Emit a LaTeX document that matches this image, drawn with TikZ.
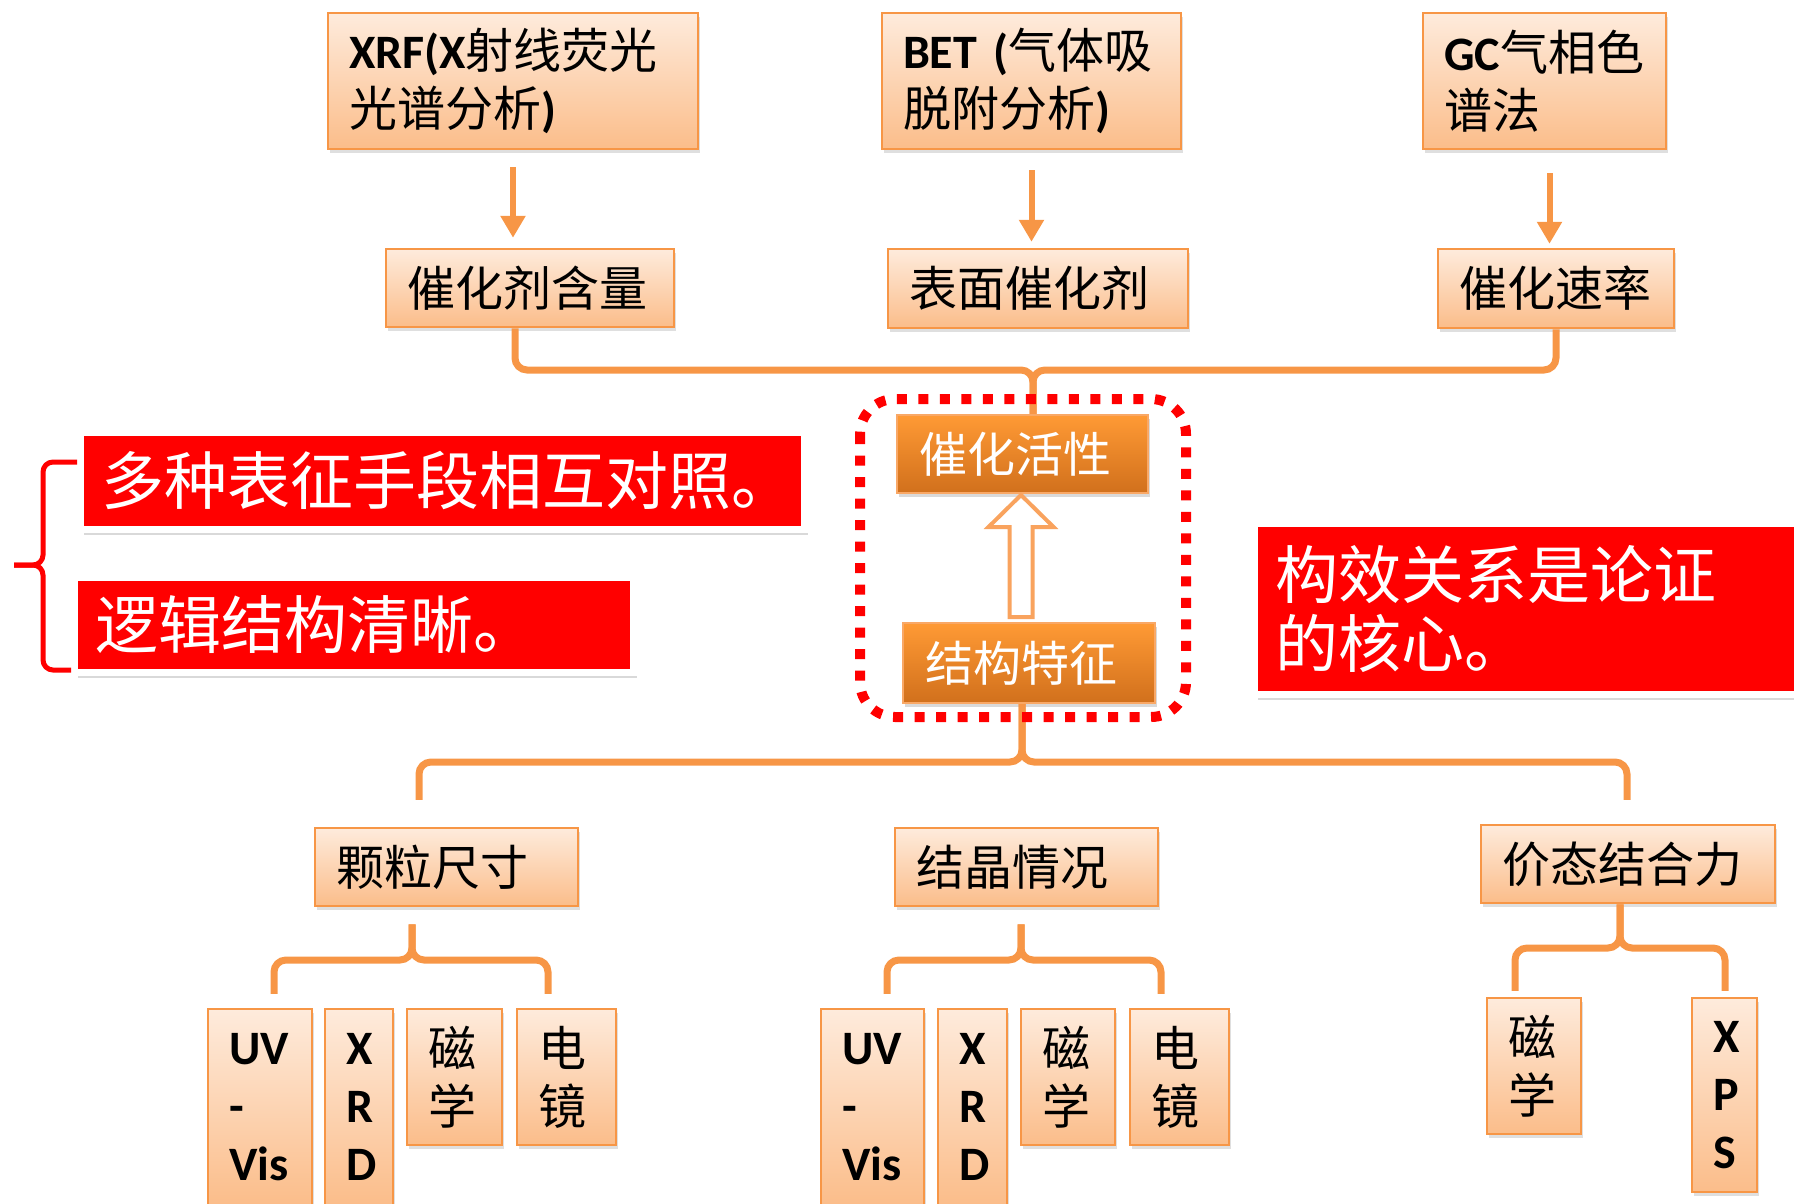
\documentclass[tikz,border=0pt]{standalone}
\usepackage{fontspec}
\newfontfamily\cjk{Noto Sans CJK SC}
\newfontfamily\latf{Carlito}
\newcommand\lt[1]{{\latf\bfseries #1}}
\newcommand\fsL{\cjk\fontsize{48pt}{58pt}\selectfont}
\newcommand\fsR{\cjk\fontsize{63pt}{69pt}\selectfont}
\usetikzlibrary{arrows.meta,shadows,calc}
\definecolor{boxtop}{HTML}{FEEBDC}
\definecolor{boxbot}{HTML}{FBBD8A}
\definecolor{boxline}{HTML}{F79646}
\definecolor{conn}{HTML}{F79646}
\definecolor{dtop}{HTML}{FF9A35}
\definecolor{dbot}{HTML}{D1701C}
\definecolor{dline}{HTML}{F9A866}
\definecolor{hollowline}{HTML}{F9A35E}
\definecolor{pured}{HTML}{FF0000}
\begin{document}
\begin{tikzpicture}[x=1pt,y=-1pt,
  lbox/.style={draw=boxline, line width=2.5pt, top color=boxtop, bottom color=boxbot,
    inner xsep=21pt, inner ysep=0pt, align=left, text=black, font=\fsL,
    drop shadow={shadow xshift=2pt, shadow yshift=-4pt, opacity=0.25}},
  dbox/.style={draw=dline, line width=2pt, top color=dtop, bottom color=dbot,
    inner xsep=22pt, inner ysep=0pt, align=left, text=white, font=\fsL,
    drop shadow={shadow xshift=2pt, shadow yshift=-4pt, opacity=0.3}},
  rbox/.style={draw=white, line width=7pt, fill=pured, inner xsep=21pt, inner ysep=0pt,
    align=left, text=white, font=\fsR,
    drop shadow={shadow xshift=3pt, shadow yshift=-5pt, opacity=0.3}},
  obrace/.style={draw=conn, line width=7pt, rounded corners=12pt},
  oarrow/.style={draw=conn, line width=6pt, -{Triangle[width=24pt,length=22pt]}},
  hollow/.style={draw=hollowline, line width=4pt, fill=white, line join=miter},
  redbr/.style={draw=pured, line width=5pt, rounded corners=10pt},
  dotframe/.style={draw=pured, line width=10pt, dash pattern=on 10pt off 11.5pt, rounded corners=35pt}
]
\useasboundingbox (0,0) rectangle (1794,1203);

% ---------- boxes ----------
\node[lbox, minimum width=370pt, minimum height=136pt, text width=328pt] (xrf) at (513,81)
  {\lt{XRF(X}射线荧光\\光谱分析\lt{)}};
\node[lbox, minimum width=299pt, minimum height=136pt, text width=257pt] (bet) at (1031.5,81)
  {\lt{BET (}气体吸\\脱附分析\lt{)}};
\node[lbox, minimum width=243pt, minimum height=136pt, text width=201pt] (gc) at (1544.5,81)
  {\lt{GC}气相色\\谱法};

\node[lbox, minimum width=288pt, minimum height=78pt, text width=246pt] (cat) at (530,288) {催化剂含量};
\node[lbox, minimum width=300pt, minimum height=79pt, text width=258pt] (surf) at (1038,288.5) {表面催化剂};
\node[lbox, minimum width=236pt, minimum height=79pt, text width=194pt] (rate) at (1556,288.5) {催化速率};

% ---------- upper brace ----------
\coordinate (uj) at (1033,370);
\draw[obrace] ([xshift=-15pt]cat.south) |- (uj) -- (uj |- 0,415);
\draw[obrace] (rate.south) |- (uj) -- (uj |- 0,415);

% ---------- arrows ----------
\draw[oarrow, shorten <=17pt, shorten >=10pt] (xrf.south) -- (xrf.south |- cat.north);
\draw[oarrow, shorten <=20pt, shorten >=6pt] (bet.south) -- (bet.south |- surf.north);
\coordinate (ga) at ($(gc.south)+(5,0)$);
\draw[oarrow, shorten <=23pt, shorten >=4pt] (ga) -- (ga |- rate.north);

% ---------- centre ----------
\node[dbox, minimum width=251pt, minimum height=78pt, text width=207pt] (act) at (1022.5,454) {催化活性};
\node[dbox, minimum width=252pt, minimum height=80pt, text width=208pt] (struct) at (1029,663) {结构特征};

\coordinate (hb) at (1021,617);
\coordinate (ht) at (1021,495);
\draw[hollow] ($(hb)+(-11.5,0)$) -- ($(ht)+(-11.5,32)$) -- ($(ht)+(-32.5,32)$) -- (ht)
  -- ($(ht)+(32.5,32)$) -- ($(ht)+(11.5,32)$) -- ($(hb)+(11.5,0)$) -- cycle;

% ---------- lower boxes ----------
\node[lbox, minimum width=263pt, minimum height=78pt, text width=221pt] (particle) at (446.5,867) {颗粒尺寸};
\node[lbox, minimum width=263pt, minimum height=78pt, text width=221pt] (cryst) at (1026.5,867) {结晶情况};
\node[lbox, minimum width=294pt, minimum height=78pt, text width=252pt] (val) at (1628,864) {价态结合力};

\node[lbox, minimum width=104pt, minimum height=196pt, text width=62pt] (uv1) at (260,1107) {\lt{UV}\\\lt{-}\\\lt{Vis}};
\node[lbox, minimum width=68pt, minimum height=196pt, text width=26pt] (xrd1) at (359,1107) {\lt{X}\\\lt{R}\\\lt{D}};
\node[lbox, minimum width=95pt, minimum height=136pt, text width=53pt] (mag1) at (454.5,1077) {磁\\学};
\node[lbox, minimum width=99pt, minimum height=136pt, text width=57pt] (em1) at (566.5,1077) {电\\镜};

\node[lbox, minimum width=103pt, minimum height=196pt, text width=61pt] (uv2) at (872.5,1107) {\lt{UV}\\\lt{-}\\\lt{Vis}};
\node[lbox, minimum width=69pt, minimum height=196pt, text width=27pt] (xrd2) at (972.5,1107) {\lt{X}\\\lt{R}\\\lt{D}};
\node[lbox, minimum width=94pt, minimum height=136pt, text width=52pt] (mag2) at (1068,1077) {磁\\学};
\node[lbox, minimum width=99pt, minimum height=136pt, text width=57pt] (em2) at (1179.5,1077) {电\\镜};

\node[lbox, minimum width=94pt, minimum height=136pt, text width=52pt] (mag3) at (1534,1066) {磁\\学};
\node[lbox, minimum width=65pt, minimum height=194pt, text width=23pt] (xps) at (1724.5,1095) {\lt{X}\\\lt{P}\\\lt{S}};

% ---------- lower braces ----------
\coordinate (lj) at (1022,762);
\draw[obrace] ([xshift=-27.5pt,yshift=27pt]particle.north) |- (lj) -- (lj |- struct.south);
\draw[obrace] ([xshift=-1pt,yshift=24pt]val.north) |- (lj) -- (lj |- struct.south);

\coordinate (s1) at (412,960);
\draw[obrace] ([xshift=14pt,yshift=14pt]uv1.north) |- (s1) -- ($(s1 |- particle.south)+(0,17)$);
\draw[obrace] ([xshift=-18.5pt,yshift=14pt]em1.north) |- (s1) -- ($(s1 |- particle.south)+(0,17)$);

\coordinate (s2) at (1021,960);
\draw[obrace] ([xshift=14.5pt,yshift=14pt]uv2.north) |- (s2) -- ($(s2 |- cryst.south)+(0,17)$);
\draw[obrace] ([xshift=-18.5pt,yshift=14pt]em2.north) |- (s2) -- ($(s2 |- cryst.south)+(0,17)$);

\coordinate (s3) at (1620,948);
\draw[obrace] ([xshift=-19pt,yshift=6pt]mag3.north) |- (s3) -- (s3 |- val.south);
\draw[obrace] ([xshift=0.5pt,yshift=6pt]xps.north) |- (s3) -- (s3 |- val.south);

% ---------- dotted frame ----------
\draw[dotframe] (860,399) rectangle (1186,717);

% ---------- red notes ----------
\node[rbox, minimum width=724pt, minimum height=97pt, text width=682pt] (r1) at (442.5,481) {多种表征手段相互对照。};
\node[rbox, minimum width=559pt, minimum height=95pt, text width=517pt] (r2) at (354,625) {逻辑结构清晰。};
\node[rbox, minimum width=555pt, minimum height=171pt, text width=513pt] (r3) at (1532,609) {构效关系是论证\\的核心。};

\draw[redbr] ([yshift=19pt]r1.west) -| (43,565) -- (14,565);
\draw[redbr] ([yshift=-45pt]r2.west) -| (43,565) -- (14,565);
\end{tikzpicture}
\end{document}
